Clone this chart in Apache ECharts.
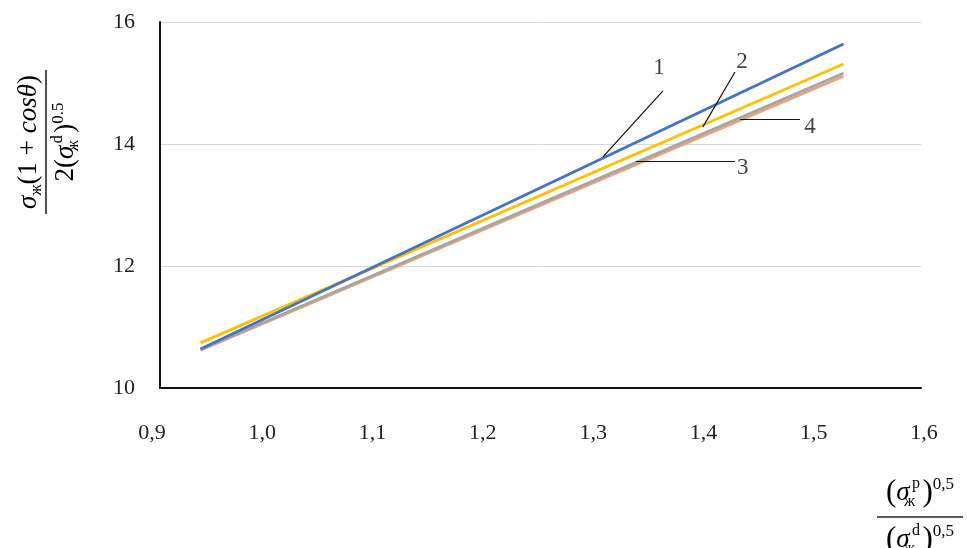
<!DOCTYPE html>
<html>
<head>
<meta charset="utf-8">
<script src="https://cdn.jsdelivr.net/npm/echarts@6/dist/echarts.min.js"></script>
<style>
  html, body { margin: 0; padding: 0; background: #fff; }
  #chart { width: 967px; height: 548px; }
</style>
</head>
<body>
<div id="chart"></div>
<script>
// Straight-line fits: end points of each curve
const xValues = [0.944, 1.527];
const line1 = [10.64, 15.64];
const line2 = [10.74, 15.31];
const line3 = [10.63, 15.16];
const line4 = [10.62, 15.11];

// Axis ranges
const xRange = [0.9, 1.6, 0.1];
const yRange = [10, 16, 2];

// Curve numbers and their leader lines (data coordinates)
const curveNames = ['1', '2', '3', '4'];
const curveNameAt = [[1.3597, 15.25], [1.4349, 15.34], [1.4357, 13.61], [1.4966, 14.28]];
const leaderFrom = [[1.3633, 14.87], [1.4286, 15.18], [1.3388, 13.72], [1.4331, 14.41]];
const leaderTo = [[1.3089, 13.79], [1.3995, 14.28], [1.4286, 13.72], [1.4875, 14.41]];

const SERIF = "'Liberation Serif', 'DejaVu Serif', serif";
const INK = '#262626';
const zip = (xs, ys) => xs.map((x, i) => [x, ys[i]]);

const chart = echarts.init(document.getElementById('chart'), null, { renderer: 'canvas' });

const mathRich = {
  r: { fontFamily: SERIF, fontSize: 27, lineHeight: 32, color: INK },
  i: { fontFamily: SERIF, fontSize: 27, lineHeight: 32, fontStyle: 'italic', color: INK },
  p: { fontFamily: SERIF, fontSize: 31, lineHeight: 34, color: INK },
  s: { fontFamily: SERIF, fontSize: 16, lineHeight: 18, verticalAlign: 'bottom', color: INK },
  s0: { fontFamily: SERIF, fontSize: 16, lineHeight: 18, width: 0, verticalAlign: 'bottom', color: INK },
  sd: { fontFamily: SERIF, fontSize: 16, lineHeight: 18, width: 13, verticalAlign: 'top', color: INK },
  sup: { fontFamily: SERIF, fontSize: 17, lineHeight: 16, verticalAlign: 'top', color: INK }
};

const option = {
  backgroundColor: '#ffffff',
  animation: false,
  grid: [
    { left: 152, right: 43, top: 22, bottom: 160 },
    { left: 160, right: 46, top: 22, bottom: 160 }
  ],
  xAxis: [
    {
      gridIndex: 0, type: 'value', min: xRange[0], max: xRange[1], interval: xRange[2],
      axisLine: { show: false }, axisTick: { show: false }, splitLine: { show: false },
      axisLabel: {
        margin: 34, fontFamily: SERIF, fontSize: 22, color: '#222',
        formatter: v => v.toFixed(1).replace('.', ',')
      }
    },
    {
      gridIndex: 1, type: 'value', min: 0, max: 1,
      axisLine: { show: true, lineStyle: { color: '#111', width: 2 } },
      axisTick: { show: false }, axisLabel: { show: false }, splitLine: { show: false }
    }
  ],
  yAxis: [
    { gridIndex: 0, type: 'value', min: yRange[0], max: yRange[1], interval: yRange[2], show: false },
    {
      gridIndex: 1, type: 'value', min: yRange[0], max: yRange[1], interval: yRange[2],
      axisLine: { show: true, lineStyle: { color: '#111', width: 2 } },
      axisTick: { show: false },
      axisLabel: { margin: 25, fontFamily: SERIF, fontSize: 22, color: '#222' },
      splitLine: { lineStyle: { color: '#d9d9d9', width: 1 } }
    }
  ],
  series: [
    { name: '4', type: 'line', data: zip(xValues, line4), showSymbol: false, z: 2,
      lineStyle: { color: '#E9A27C', width: 2.8 }, itemStyle: { color: '#E9A27C' } },
    { name: '3', type: 'line', data: zip(xValues, line3), showSymbol: false, z: 3,
      lineStyle: { color: '#A5A5A5', width: 2.8 }, itemStyle: { color: '#A5A5A5' } },
    { name: '2', type: 'line', data: zip(xValues, line2), showSymbol: false, z: 4,
      lineStyle: { color: '#FFC000', width: 2.8 }, itemStyle: { color: '#FFC000' } },
    { name: '1', type: 'line', data: zip(xValues, line1), showSymbol: false, z: 5,
      lineStyle: { color: '#4472C4', width: 2.8 }, itemStyle: { color: '#4472C4' } },
    {
      name: 'leaders', type: 'lines', coordinateSystem: 'cartesian2d', z: 6,
      lineStyle: { color: '#111', width: 1.2, opacity: 1 },
      data: leaderFrom.map((p, i) => ({ coords: [p, leaderTo[i]] }))
    },
    {
      name: 'numbers', type: 'scatter', symbol: 'circle', symbolSize: 1, z: 7,
      itemStyle: { color: 'rgba(0,0,0,0)' },
      data: curveNameAt.map((p, i) => [p[0], p[1], curveNames[i]]),
      label: {
        show: true, position: 'inside', formatter: p => p.value[2],
        fontFamily: SERIF, fontSize: 23, color: '#111'
      }
    }
  ],
  graphic: [
    {
      type: 'group', x: 46, y: 142, rotation: Math.PI / 2,
      children: [
        { type: 'text', x: 0, y: -17,
          style: { text: '{i|σ}{s|ж}{r|(1 + }{i|cosθ}{r|)}', rich: mathRich,
                   textAlign: 'center', textVerticalAlign: 'middle' } },
        { type: 'line', shape: { x1: -72, y1: 0, x2: 72, y2: 0 },
          style: { stroke: INK, lineWidth: 1.6 } },
        { type: 'text', x: 0, y: 20,
          style: { text: '{r|2(}{i|σ}{s0|ж}{sd|d}{r|)}{sup|0.5}', rich: mathRich,
                   textAlign: 'center', textVerticalAlign: 'middle' } }
      ]
    },
    {
      type: 'group', x: 920, y: 517,
      children: [
        { type: 'text', x: 0, y: -24,
          style: { text: '{p|(}{i|σ}{s0|ж}{sd|p}{p|)}{sup|0,5}', rich: mathRich,
                   textAlign: 'center', textVerticalAlign: 'middle' } },
        { type: 'line', shape: { x1: -43, y1: 0, x2: 43, y2: 0 },
          style: { stroke: INK, lineWidth: 1.6 } },
        { type: 'text', x: 0, y: 23,
          style: { text: '{p|(}{i|σ}{s0|ж}{sd|d}{p|)}{sup|0,5}', rich: mathRich,
                   textAlign: 'center', textVerticalAlign: 'middle' } }
      ]
    }
  ]
};

chart.setOption(option);
</script>
</body>
</html>
